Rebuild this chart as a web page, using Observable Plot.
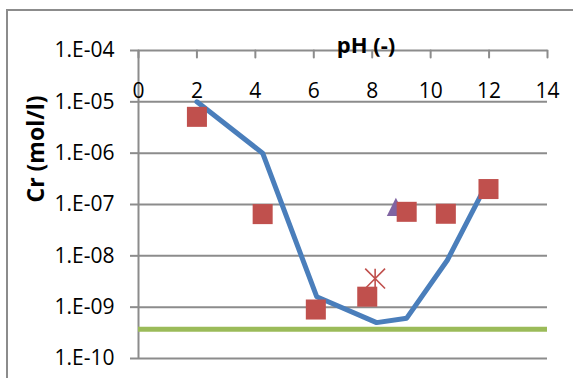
<!DOCTYPE html>
<html>
<head>
<meta charset="utf-8">
<script src="https://cdn.jsdelivr.net/npm/d3@7"></script>
<script src="https://cdn.jsdelivr.net/npm/@observablehq/plot@0.6"></script>
<style>
  html, body { margin: 0; padding: 0; background: #fff; }
  #chart { position: relative; width: 573px; height: 378px; overflow: hidden; font-family: "Open Sans", sans-serif; }
  #border { position: absolute; left: 6px; top: 9px; width: 700px; height: 500px; border: 2px solid #8c8c8c; box-sizing: border-box; }
  #chart svg { position: absolute; left: 0; top: 0; }
</style>
</head>
<body>
<div id="chart"><div id="border"></div></div>
<script>
// Modelled Cr solubility curve vs pH
const modelPH = [2.0, 4.25, 6.1, 8.15, 9.18, 10.57, 11.85];
const modelCr = [1.0e-5, 1.0e-6, 1.6e-9, 5.0e-10, 6.1e-10, 8.2e-9, 2.1e-7];

// Measured Cr concentrations (squares)
const measPH = [2.0, 4.25, 6.07, 7.83, 9.18, 10.52, 11.98];
const measCr = [5.1e-6, 6.5e-8, 9.0e-10, 1.6e-9, 7.2e-8, 6.6e-8, 2.0e-7];

// Single additional observations
const trianglePH = [8.81];
const triangleCr = [9.0e-8];
const starPH = [8.1];
const starCr = [3.6e-9];

// Horizontal reference level
const referenceCr = [3.7e-10];

// Axis ticks
const xTicks = [0, 2, 4, 6, 8, 10, 12, 14];
const yTicks = [1e-10, 1e-9, 1e-8, 1e-7, 1e-6, 1e-5, 1e-4];
const xTitle = "pH (-)";
const yTitle = "Cr (mol/l)";

const model = modelPH.map((x, i) => ({x, y: modelCr[i]}));
const measured = measPH.map((x, i) => ({x, y: measCr[i]}));
const triangles = trianglePH.map((x, i) => ({x, y: triangleCr[i]}));
const stars = starPH.map((x, i) => ({x, y: starCr[i]}));

const sci = d => {
  const e = Math.round(Math.log10(d));
  return "1.E" + (e < 0 ? "-" : "+") + String(Math.abs(e)).padStart(2, "0");
};

// Upright triangle centred on its bounding box
const triangleSymbol = {
  draw(ctx, size) {
    const h = Math.sqrt(size) / 2;
    ctx.moveTo(0, -h); ctx.lineTo(h, h); ctx.lineTo(-h, h); ctx.closePath();
  }
};
// "x" with a vertical bar through it
const starSymbol = {
  draw(ctx, size) {
    const h = Math.sqrt(size) / 2;
    ctx.moveTo(-h, -h); ctx.lineTo(h, h);
    ctx.moveTo(h, -h); ctx.lineTo(-h, h);
    ctx.moveTo(0, -h); ctx.lineTo(0, h);
  }
};
// Plain straight tick for the top axis (vector rotated to hang below the axis line)
const tickShape = {
  draw(ctx, l) { ctx.moveTo(0, 0); ctx.lineTo(0, -l); }
};

const gridColor = "#8c8c8c";

const chart = Plot.plot({
  width: 573,
  height: 378,
  marginLeft: 138,
  marginRight: 26,
  marginTop: 50,
  marginBottom: 20,
  style: {background: "transparent", fontFamily: "'Open Sans', sans-serif", fontSize: "20px", color: "#000"},
  x: {domain: [0, 14], axis: null},
  y: {type: "log", domain: [1e-10, 1e-4]},
  marks: [
    Plot.ruleY(yTicks, {stroke: gridColor, strokeWidth: 2}),
    Plot.ruleX([0], {stroke: gridColor, strokeWidth: 2}),
    Plot.axisY({ticks: yTicks, tickFormat: sci, tickSize: 8, tickPadding: 16, stroke: gridColor, strokeWidth: 2, fontSize: 21, label: null, fill: "#000"}),
    Plot.vector(xTicks, {x: d => d, frameAnchor: "top", length: 7, rotate: 180, anchor: "start", shape: tickShape, stroke: gridColor, strokeWidth: 2}),
    Plot.text(xTicks, {x: d => d, frameAnchor: "top", dy: 33, text: d => String(d), fontSize: 21, fill: "#000"}),
    Plot.text([xTitle], {frameAnchor: "top", dx: 23, dy: -13, fontSize: 22, fontWeight: "bold", fill: "#000"}),
    Plot.text([yTitle], {frameAnchor: "left", rotate: -90, dx: -102, dy: -2, fontSize: 23, fontWeight: "bold", fill: "#000"}),
    Plot.ruleY(referenceCr, {stroke: "#9BBB59", strokeWidth: 5}),
    Plot.line(model, {x: "x", y: "y", stroke: "#4A7EBB", strokeWidth: 5, strokeLinejoin: "round"}),
    Plot.dot(triangles, {x: "x", y: "y", symbol: triangleSymbol, r: 10.2, fill: "#8064A2", stroke: "none"}),
    Plot.dot(measured, {x: "x", y: "y", symbol: "square", r: 11.3, fill: "#C0504D", stroke: "none"}),
    Plot.dot(stars, {x: "x", y: "y", symbol: starSymbol, r: 11.2, fill: "none", stroke: "#C0504D", strokeWidth: 1.6})
  ]
});

document.getElementById("chart").appendChild(chart);
</script>
</body>
</html>
